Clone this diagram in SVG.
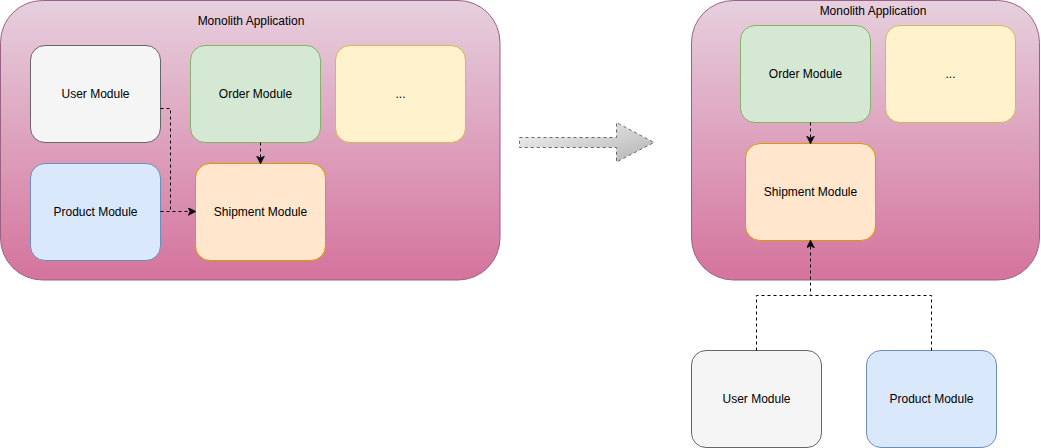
<svg xmlns="http://www.w3.org/2000/svg" width="1041" height="448" viewBox="0 0 1041 448">
<style>
text{font-family:"Liberation Sans",Arial,sans-serif;font-size:12px;fill:#000;text-anchor:middle}
.c{stroke:#996185;stroke-width:1;fill:url(#gc)}
.m{stroke-width:1}
.user{fill:#f5f5f5;stroke:#666666}
.order{fill:#d5e8d4;stroke:#82b366}
.etc{fill:#fff2cc;stroke:#d6b656}
.prod{fill:#dae8fc;stroke:#6c8ebf}
.ship{fill:#ffe6cc;stroke:#d79b00}
.e{fill:none;stroke:#000;stroke-width:1;stroke-dasharray:3 3}
.ea{fill:none;stroke:#000;stroke-width:1;stroke-dasharray:3 3;marker-end:url(#ah)}
</style>
<defs>
<linearGradient id="gc" x1="0" y1="0" x2="0" y2="1">
<stop offset="0" stop-color="#e6d0de"/>
<stop offset="1" stop-color="#d5739d"/>
</linearGradient>
<linearGradient id="ga" x1="0" y1="0" x2="1" y2="1">
<stop offset="0" stop-color="#f5f5f5"/>
<stop offset="1" stop-color="#b3b3b3"/>
</linearGradient>
<marker id="ah" markerWidth="10" markerHeight="10" refX="7" refY="4" orient="auto" markerUnits="userSpaceOnUse">
<path d="M0,0 L8,4 L0,8 L2,4 Z" fill="#000" stroke="#000" stroke-width="0.5"/>
</marker>
</defs>

<g id="monolith-left">
<rect class="c" x="0.5" y="0.5" width="499.5" height="279.5" rx="42"/>
<text x="251" y="25">Monolith Application</text>
</g>
<g id="user-left">
<rect class="m user" x="30.5" y="45.5" width="130" height="97" rx="14.5"/>
<text x="95.5" y="98">User Module</text>
</g>
<g id="order-left">
<rect class="m order" x="190.5" y="45.5" width="130" height="97" rx="14.5"/>
<text x="255.5" y="98">Order Module</text>
</g>
<g id="etc-left">
<rect class="m etc" x="335.5" y="45.5" width="130" height="97" rx="14.5"/>
<text x="400.5" y="98">...</text>
</g>
<g id="product-left">
<rect class="m prod" x="30.5" y="163.5" width="130" height="97" rx="14.5"/>
<text x="95.5" y="216">Product Module</text>
</g>
<g id="shipment-left">
<rect class="m ship" x="195.5" y="163.5" width="130" height="97" rx="14.5"/>
<text x="260.5" y="216">Shipment Module</text>
</g>

<g id="transform-arrow">
<path d="M519.5,137.5 L616.5,137.5 L616.5,122.5 L654,142.5 L616.5,162 L616.5,147.5 L519.5,147.5 Z" fill="url(#ga)" stroke="#666666" stroke-width="1" stroke-dasharray="3 3"/>
</g>

<g id="monolith-right">
<rect class="c" x="691.5" y="0.5" width="348" height="279.5" rx="42"/>
<text x="873" y="15">Monolith Application</text>
</g>
<g id="order-right">
<rect class="m order" x="740.5" y="25.5" width="130" height="97" rx="14.5"/>
<text x="805.5" y="78">Order Module</text>
</g>
<g id="etc-right">
<rect class="m etc" x="885.5" y="25.5" width="130" height="97" rx="14.5"/>
<text x="950.5" y="78">...</text>
</g>
<g id="shipment-right">
<rect class="m ship" x="745.5" y="143.5" width="130" height="97" rx="14.5"/>
<text x="810.5" y="196">Shipment Module</text>
</g>
<g id="user-right">
<rect class="m user" x="691.5" y="350.5" width="130" height="97" rx="14.5"/>
<text x="756.5" y="403">User Module</text>
</g>
<g id="product-right">
<rect class="m prod" x="866.5" y="350.5" width="130" height="97" rx="14.5"/>
<text x="931.5" y="403">Product Module</text>
</g>

<g id="connectors">
<path class="e" d="M160.5,108.5 L170.5,108.5 L170.5,211.5"/>
<path class="ea" d="M160.5,211.5 L195,211.5"/>
<path class="ea" d="M260.5,142.5 L260.5,163"/>
<path class="ea" d="M810.5,122.5 L810.5,143"/>
<path class="e" d="M756.5,350.5 L756.5,295.5 L810.5,295.5"/>
<path class="ea" d="M931.5,350.5 L931.5,295.5 L810.5,295.5 L810.5,241"/>
</g>
</svg>
